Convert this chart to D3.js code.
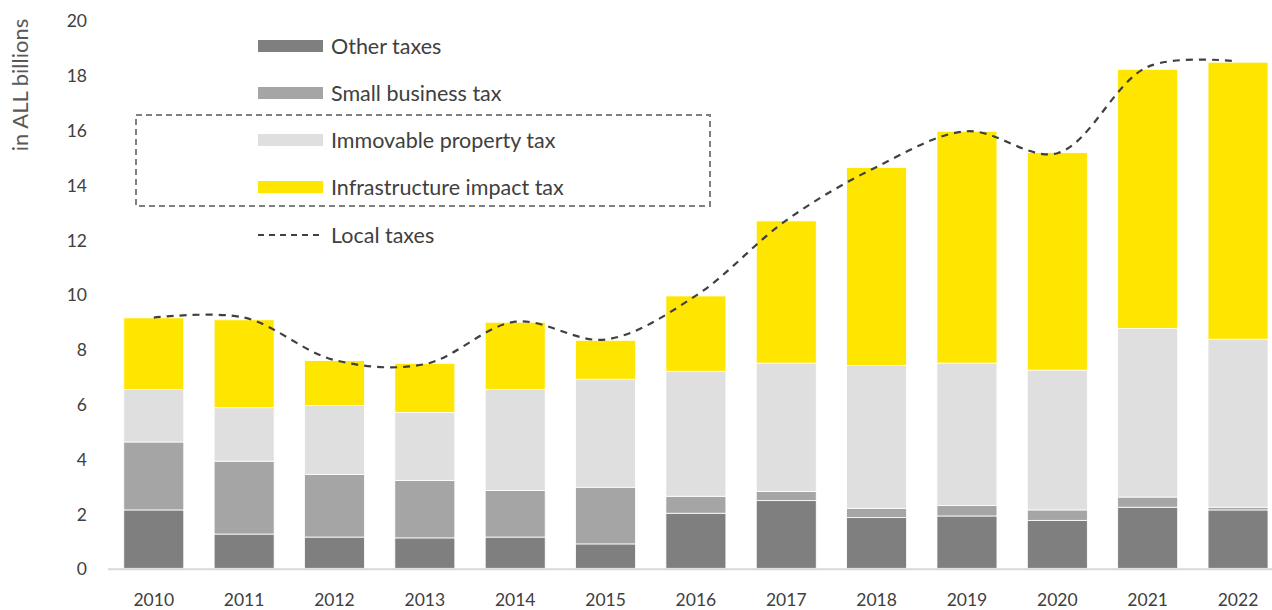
<!DOCTYPE html>
<html lang="en">
<head>
  <meta charset="UTF-8">
  <title>local-taxes</title>
  <script src="https://cdn.jsdelivr.net/npm/d3@7"></script>
  <style type="text/css">
    body { margin: 0; background: #fff; }
    svg { display: block; font-family: Lato, "Open Sans", sans-serif; }
    .tick-label { fill: #404040; font-size: 17.5px; }
    .axis-title { fill: #595959; font-size: 22px; }
    .legend-label { fill: #404040; font-size: 21.5px; }
  </style>
</head>
<body>
  <script>
    var years = ['2010', '2011', '2012', '2013', '2014', '2015', '2016', '2017', '2018', '2019', '2020', '2021', '2022'];
    var otherTaxes = [2.13, 1.25, 1.14, 1.11, 1.14, 0.89, 2.01, 2.47, 1.85, 1.91, 1.75, 2.23, 2.13];
    var smallBusinessTax = [2.48, 2.66, 2.29, 2.10, 1.70, 2.07, 0.62, 0.33, 0.34, 0.38, 0.38, 0.37, 0.10];
    var immovablePropertyTax = [1.92, 1.95, 2.51, 2.48, 3.69, 3.94, 4.56, 4.69, 5.21, 5.20, 5.10, 6.15, 6.13];
    var infrastructureTax = [2.61, 3.21, 1.64, 1.79, 2.45, 1.42, 2.75, 5.19, 7.23, 8.46, 7.94, 9.46, 10.11];
    var localTaxes = [9.15, 9.15, 7.6, 7.45, 9.0, 8.35, 9.95, 12.7, 14.65, 15.95, 15.15, 18.3, 18.5];
    var yTicks = [0, 2, 4, 6, 8, 10, 12, 14, 16, 18, 20];

    var series = [
      { name: 'Other taxes', values: otherTaxes, color: '#7f7f7f' },
      { name: 'Small business tax', values: smallBusinessTax, color: '#a5a5a5' },
      { name: 'Immovable property tax', values: immovablePropertyTax, color: '#dfdfdf' },
      { name: 'Infrastructure impact tax', values: infrastructureTax, color: '#ffe600' }
    ];

    var w = 1272;
    var h = 610;

    var svg = d3.select('body')
      .append('svg')
      .attr('width', w)
      .attr('height', h);

    var x = d3.scaleBand()
      .domain(years)
      .range([108.6, 1283.2])
      .paddingInner(0.336)
      .paddingOuter(0.168);

    var y = d3.scaleLinear()
      .domain([0, 20])
      .range([568.3, 20.3]);

    // stack the rows
    var rows = years.map(function (yr, i) {
      var r = { year: yr };
      series.forEach(function (s) { r[s.name] = s.values[i]; });
      return r;
    });
    var stack = d3.stack().keys(series.map(function (s) { return s.name; }));
    var layers = stack(rows);

    // y labels
    svg.append('g')
      .selectAll('text')
      .data(yTicks)
      .enter()
      .append('text')
      .attr('class', 'tick-label')
      .attr('x', 87)
      .attr('y', function (d) { return y(d) + 1; })
      .attr('dy', '0.35em')
      .attr('text-anchor', 'end')
      .text(function (d) { return d; });

    svg.append('text')
      .attr('class', 'axis-title')
      .attr('transform', 'translate(28,85) rotate(-90)')
      .attr('text-anchor', 'middle')
      .text('in ALL billions');

    // bars
    svg.append('g')
      .selectAll('g')
      .data(layers)
      .enter()
      .append('g')
      .attr('fill', function (d, i) { return series[i].color; })
      .selectAll('rect')
      .data(function (d) { return d; })
      .enter()
      .append('rect')
      .attr('x', function (d) { return x(d.data.year); })
      .attr('width', x.bandwidth())
      .attr('y', function (d) { return y(d[1]); })
      .attr('height', function (d) { return y(d[0]) - y(d[1]); })
      .attr('stroke', '#fff')
      .attr('stroke-width', 0.8);

    // axis line
    svg.append('line')
      .attr('x1', 108)
      .attr('x2', w)
      .attr('y1', y(0) + 1)
      .attr('y2', y(0) + 1)
      .attr('stroke', '#d9d9d9')
      .attr('stroke-width', 2);

    svg.append('g')
      .selectAll('text')
      .data(years)
      .enter()
      .append('text')
      .attr('class', 'tick-label')
      .attr('x', function (d) { return x(d) + x.bandwidth() / 2; })
      .attr('y', 606)
      .attr('text-anchor', 'middle')
      .text(function (d) { return d; });

    // local taxes line
    var line = d3.line()
      .x(function (d, i) { return x(years[i]) + x.bandwidth() / 2; })
      .y(function (d) { return y(d); })
      .curve(d3.curveCatmullRom.alpha(0.5));

    svg.append('path')
      .datum(localTaxes)
      .attr('d', line)
      .attr('fill', 'none')
      .attr('stroke', '#404040')
      .attr('stroke-width', 2.2)
      .attr('stroke-dasharray', '7,6');

    // legend
    var legend = svg.append('g');
    var rowY = [46, 93, 140, 187];
    series.forEach(function (s, i) {
      legend.append('rect')
        .attr('x', 258)
        .attr('y', rowY[i] - 6)
        .attr('width', 65)
        .attr('height', 12)
        .attr('fill', s.color);
      legend.append('text')
        .attr('class', 'legend-label')
        .attr('x', 331)
        .attr('y', rowY[i])
        .attr('dy', '0.35em')
        .text(s.name);
    });
    legend.append('line')
      .attr('x1', 258)
      .attr('x2', 323)
      .attr('y1', 235)
      .attr('y2', 235)
      .attr('stroke', '#404040')
      .attr('stroke-width', 2)
      .attr('stroke-dasharray', '6,5');
    legend.append('text')
      .attr('class', 'legend-label')
      .attr('x', 331)
      .attr('y', 235)
      .attr('dy', '0.35em')
      .text('Local taxes');

    // dashed box around property + infrastructure
    svg.append('rect')
      .attr('x', 136)
      .attr('y', 115)
      .attr('width', 574)
      .attr('height', 91)
      .attr('fill', 'none')
      .attr('stroke', '#808080')
      .attr('stroke-width', 2)
      .attr('stroke-dasharray', '6,4');
  </script>
</body>
</html>
